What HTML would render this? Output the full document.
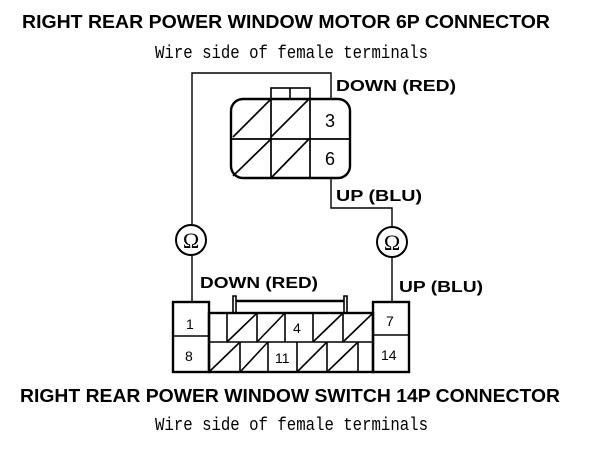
<!DOCTYPE html>
<html><head><style>body{margin:0;background:#fff}svg{display:block}</style></head>
<body>
<svg width="608" height="452" viewBox="0 0 608 452" xmlns="http://www.w3.org/2000/svg">
<g font-family="Liberation Sans, sans-serif" font-weight="bold" fill="#000">
<text x="22" y="28" font-size="18" textLength="528" lengthAdjust="spacingAndGlyphs">RIGHT REAR POWER WINDOW MOTOR 6P CONNECTOR</text>
<text x="20" y="402" font-size="18" textLength="540" lengthAdjust="spacingAndGlyphs">RIGHT REAR POWER WINDOW SWITCH 14P CONNECTOR</text>
<text x="336" y="91" font-size="16" textLength="120" lengthAdjust="spacingAndGlyphs">DOWN (RED)</text>
<text x="336" y="201" font-size="16" textLength="86" lengthAdjust="spacingAndGlyphs">UP (BLU)</text>
<text x="200" y="288" font-size="16" textLength="118" lengthAdjust="spacingAndGlyphs">DOWN (RED)</text>
<text x="399" y="292" font-size="16" textLength="84" lengthAdjust="spacingAndGlyphs">UP (BLU)</text>
</g>
<g font-family="Liberation Mono, monospace" fill="#000">
<text x="155" y="58" font-size="18" textLength="273" lengthAdjust="spacingAndGlyphs">Wire side of female terminals</text>
<text x="155" y="430" font-size="18" textLength="273" lengthAdjust="spacingAndGlyphs">Wire side of female terminals</text>
</g>
<g stroke="#000" fill="none" stroke-width="1.4">
<polyline points="192,224 192,73 331,73 331,99"/>
<polyline points="331,178 331,208 392,208 392,226"/>
<polyline points="192,256 192,302"/>
<polyline points="392,258 392,302"/>
</g>
<g stroke="#000" fill="none" stroke-width="2">
<circle cx="191" cy="240" r="15"/>
<circle cx="392" cy="242" r="15"/>
</g>
<g font-family="Liberation Serif, serif" font-size="22" text-anchor="middle" fill="#000">
<text x="191" y="248">Ω</text><text x="392" y="250">Ω</text>
</g>
<g stroke="#000" fill="none" stroke-width="2.4">
<rect x="231" y="99" width="119" height="79" rx="12"/>
<rect x="271" y="88" width="39" height="11" stroke-width="1.6"/>
<line x1="290" y1="88" x2="290" y2="99" stroke-width="1.6"/>
</g>
<g stroke="#000" stroke-width="1.7">
<line x1="231" y1="139" x2="350" y2="139"/>
<line x1="271" y1="99" x2="271" y2="178"/>
<line x1="310" y1="99" x2="310" y2="178"/>
<line x1="233" y1="137" x2="271" y2="99"/><line x1="271" y1="137" x2="309" y2="99"/>
<line x1="233" y1="176" x2="271" y2="139"/><line x1="271" y1="178" x2="309" y2="139"/>
</g>
<g font-family="Liberation Sans, sans-serif" font-size="18" fill="#000" text-anchor="middle">
<text x="330" y="127">3</text><text x="330" y="165">6</text>
</g>
<g stroke="#000" fill="none" stroke-width="2.4">
<rect x="173" y="302" width="36" height="70"/>
<rect x="373" y="302" width="36" height="70"/>
<rect x="209" y="313" width="164" height="59"/>
<polyline points="233,313 233,296 236,296 236,313" stroke-width="1.6"/>
<polyline points="344,313 344,296 347,296 347,313" stroke-width="1.6"/>
<line x1="236" y1="301" x2="344" y2="301"/>
</g>
<g stroke="#000" stroke-width="1.6">
<line x1="173" y1="336" x2="209" y2="336"/>
<line x1="373" y1="335" x2="409" y2="335"/>
<line x1="209" y1="342" x2="373" y2="342"/>
<line x1="227" y1="313" x2="227" y2="342"/><line x1="257" y1="313" x2="257" y2="342"/>
<line x1="285" y1="313" x2="285" y2="342"/><line x1="313" y1="313" x2="313" y2="342"/>
<line x1="343" y1="313" x2="343" y2="342"/>
<line x1="240" y1="342" x2="240" y2="372"/><line x1="268" y1="342" x2="268" y2="372"/>
<line x1="297" y1="342" x2="297" y2="372"/><line x1="327" y1="342" x2="327" y2="372"/>
<line x1="358" y1="342" x2="358" y2="372"/>
<line x1="228" y1="341" x2="256" y2="314"/><line x1="258" y1="341" x2="284" y2="314"/>
<line x1="314" y1="341" x2="342" y2="314"/><line x1="344" y1="341" x2="372" y2="314"/>
<line x1="210" y1="371" x2="239" y2="343"/><line x1="241" y1="371" x2="267" y2="343"/>
<line x1="298" y1="371" x2="326" y2="343"/><line x1="328" y1="371" x2="357" y2="343"/>
</g>
<g font-family="Liberation Sans, sans-serif" font-size="14" fill="#000">
<text x="186" y="329">1</text><text x="185" y="361">8</text>
<text x="293" y="333">4</text><text x="275" y="363">11</text>
<text x="386" y="326">7</text><text x="381" y="360">14</text>
</g>
</svg>
</body></html>
